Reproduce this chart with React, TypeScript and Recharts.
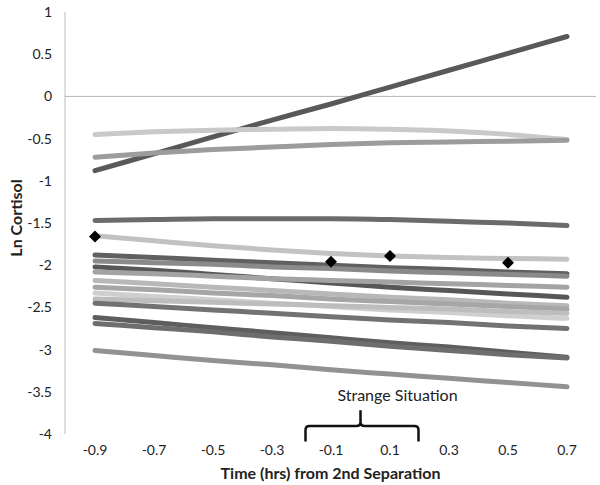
import React from 'react';
import { LineChart, Line, XAxis, YAxis, ReferenceLine, ReferenceArea, Label } from 'recharts';

// time points (hrs from 2nd separation)
const times = ['-0.9', '-0.7', '-0.5', '-0.3', '-0.1', '0.1', '0.3', '0.5', '0.7'];
const yTicks = [-4, -3.5, -3, -2.5, -2, -1.5, -1, -0.5, 0, 0.5, 1];

// individual ln cortisol trajectories
const ln01 = [-0.88, -0.68, -0.48, -0.28, -0.09, 0.11, 0.31, 0.51, 0.71];
const ln02 = [-0.45, -0.42, -0.4, -0.39, -0.38, -0.39, -0.41, -0.45, -0.51];
const ln03 = [-0.72, -0.67, -0.63, -0.6, -0.57, -0.55, -0.54, -0.53, -0.52];
const ln04 = [-1.47, -1.46, -1.45, -1.45, -1.45, -1.46, -1.48, -1.5, -1.53];
const ln05 = [-1.65, -1.71, -1.77, -1.82, -1.86, -1.89, -1.91, -1.92, -1.93];
const ln06 = [-1.88, -1.91, -1.94, -1.97, -2.0, -2.03, -2.05, -2.08, -2.1];
const ln07 = [-1.95, -1.97, -1.99, -2.02, -2.04, -2.07, -2.09, -2.11, -2.13];
const ln08 = [-2.02, -2.06, -2.11, -2.16, -2.21, -2.26, -2.3, -2.34, -2.38];
const ln09 = [-2.08, -2.1, -2.13, -2.16, -2.18, -2.2, -2.22, -2.24, -2.26];
const ln10 = [-2.18, -2.22, -2.26, -2.3, -2.34, -2.38, -2.41, -2.45, -2.48];
const ln11 = [-2.26, -2.29, -2.33, -2.36, -2.4, -2.43, -2.46, -2.49, -2.52];
const ln12 = [-2.33, -2.37, -2.41, -2.45, -2.49, -2.53, -2.56, -2.6, -2.63];
const ln13 = [-2.4, -2.42, -2.44, -2.46, -2.48, -2.5, -2.52, -2.55, -2.57];
const ln14 = [-2.45, -2.49, -2.53, -2.57, -2.61, -2.65, -2.68, -2.72, -2.75];
const ln15 = [-2.62, -2.68, -2.74, -2.8, -2.86, -2.92, -2.97, -3.03, -3.09];
const ln16 = [-2.69, -2.74, -2.79, -2.85, -2.9, -2.96, -3.01, -3.06, -3.1];
const ln17 = [-3.01, -3.07, -3.13, -3.18, -3.24, -3.29, -3.34, -3.39, -3.44];

// observed samples (diamonds)
const samples = [-1.66, null, null, null, -1.96, -1.89, null, -1.97, null];

const lines = [ln01, ln02, ln03, ln04, ln05, ln06, ln07, ln08, ln09, ln10, ln11, ln12, ln13, ln14, ln15, ln16, ln17];
const lineColors = [
  '#595959', '#c9c9c9', '#9c9c9c', '#6b6b6b', '#c2c2c2', '#606060', '#8a8a8a', '#575757', '#a3a3a3',
  '#b8b8b8', '#a6a6a6', '#cfcfcf', '#bdbdbd', '#727272', '#5e5e5e', '#6e6e6e', '#929292',
];

const data = times.map((t, i) => {
  const row: Record<string, any> = { t, sample: samples[i] };
  lines.forEach((vals, k) => {
    row['s' + k] = vals[i];
  });
  return row;
});

const font = 'Lato, "Open Sans", sans-serif';

const Diamond = (props: any) => {
  const { cx, cy, value, index } = props;
  if (value == null || cx == null || cy == null) return <g key={index} />;
  const r = 6;
  return (
    <polygon
      key={index}
      points={`${cx},${cy - r} ${cx + r},${cy} ${cx},${cy + r} ${cx - r},${cy}`}
      fill="#000"
    />
  );
};

// curly bracket under the Strange Situation window; the area spans the
// two category points, so the brace reaches out by about half a step each side
const Bracket = (props: any) => {
  const { x, y, width, height } = props;
  const half = width / 2;
  const x0 = x - half + 4;
  const x1 = x + width + half - 1;
  const xm = x + width / 2;
  const top = y;
  const bar = y + height / 2;
  const bot = y + height;
  const d = `M${x0},${bot} L${x0},${bar + 4} Q${x0},${bar} ${x0 + 4},${bar} L${xm - 4},${bar} Q${xm},${bar} ${xm},${bar - 4} L${xm},${top}
    M${xm},${bar - 4} Q${xm},${bar} ${xm + 4},${bar} L${x1 - 4},${bar} Q${x1},${bar} ${x1},${bar + 4} L${x1},${bot}`;
  return (
    <g>
      <path d={d} fill="none" stroke="#111" strokeWidth={2.5} />
      <text x={xm + 37} y={top - 9} textAnchor="middle" fontSize={16} fontFamily={font} fill="#222">
        Strange Situation
      </text>
    </g>
  );
};

export default function App() {
  return (
    <div style={{ position: 'absolute', left: 0, top: 0, width: 600, height: 485, background: '#fff', fontFamily: font }}>
      <LineChart width={600} height={485} data={data} margin={{ top: 12, right: 4, bottom: 0, left: 0 }}>
        <XAxis
          dataKey="t"
          axisLine={false}
          tickLine={false}
          tickSize={0}
          tickMargin={11}
          interval={0}
          height={51}
          padding={{ left: 30, right: 29 }}
          tick={{ fontSize: 14, fill: '#222', fontFamily: font }}
        >
          <Label
            content={({ viewBox }: any) => (
              <text
                x={viewBox.x + viewBox.width / 2}
                y={viewBox.y + 45}
                textAnchor="middle"
                fontSize={16}
                fontWeight="bold"
                fontFamily={font}
                fill="#222"
              >
                Time (hrs) from 2nd Separation
              </text>
            )}
          />
        </XAxis>
        <YAxis
          type="number"
          domain={[-4, 1]}
          ticks={yTicks}
          width={65}
          axisLine={{ stroke: '#bdbdbd' }}
          tickLine={false}
          tickSize={0}
          tickMargin={13}
          tick={{ fontSize: 14, fill: '#222', fontFamily: font }}
        >
          <Label
            content={({ viewBox }: any) => {
              const cx = viewBox.x + 15;
              const cy = viewBox.y + viewBox.height / 2 - 5;
              return (
                <text
                  x={cx}
                  y={cy}
                  transform={`rotate(-90, ${cx}, ${cy})`}
                  textAnchor="middle"
                  dominantBaseline="central"
                  fontSize={16}
                  fontWeight="bold"
                  fontFamily={font}
                  fill="#222"
                >
                  Ln Cortisol
                </text>
              );
            }}
          />
        </YAxis>
        <ReferenceLine y={0} stroke="#b5b5b5" strokeWidth={1} />
        {lines.map((_, k) => (
          <Line
            key={k}
            dataKey={'s' + k}
            type="monotone"
            stroke={lineColors[k]}
            strokeWidth={5}
            strokeLinecap="round"
            dot={false}
            activeDot={false}
            isAnimationActive={false}
          />
        ))}
        <Line
          dataKey="sample"
          stroke="none"
          dot={<Diamond />}
          activeDot={false}
          isAnimationActive={false}
        />
        <ReferenceArea
          x1="-0.1"
          x2="0.1"
          y1={-4.09}
          y2={-3.72}
          ifOverflow="visible"
          shape={<Bracket />}
        />
      </LineChart>
    </div>
  );
}
